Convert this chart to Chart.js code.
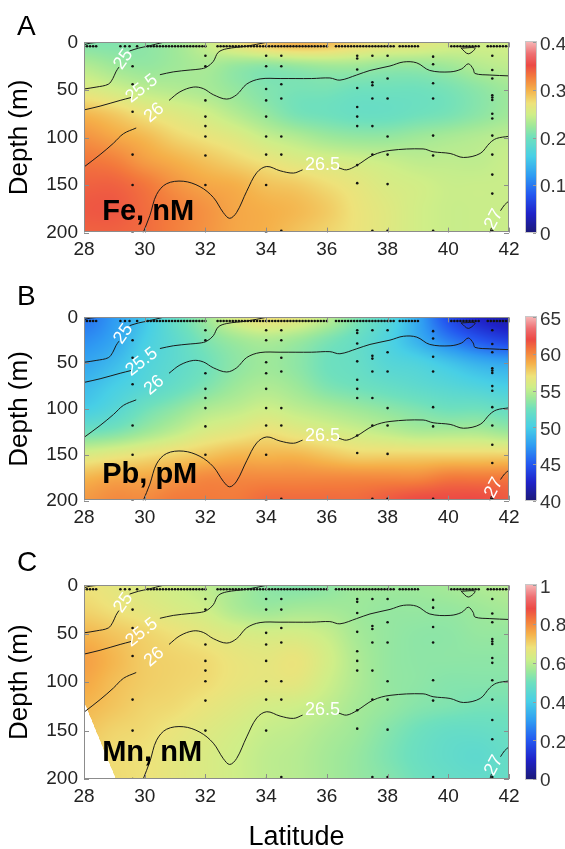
<!DOCTYPE html>
<html>
<head>
<meta charset="utf-8">
<script src="https://cdn.jsdelivr.net/npm/chart.js@4.4.1/dist/chart.umd.min.js"></script>
<style>
  html, body { margin: 0; padding: 0; background: #fff; }
  #fig { position: relative; width: 565px; height: 849px; }
  #fig canvas { position: absolute; left: 0; }
</style>
</head>
<body>
<div id="fig">
  <canvas id="panelA" width="565" height="275" style="top:0;width:565px;height:275px"></canvas>
  <canvas id="panelB" width="565" height="268" style="top:275px;width:565px;height:268px"></canvas>
  <canvas id="panelC" width="565" height="306" style="top:543px;width:565px;height:306px"></canvas>
</div>
<script>
// grid of the interpolated sections
const gridLats = [28, 29, 30, 31, 32, 33, 34, 35, 36, 37, 38, 39, 40, 41, 42];
const gridDepths = [0, 25, 50, 75, 100, 125, 150, 175, 200];

const feValues = [
  [0.21, 0.21, 0.215, 0.225, 0.245, 0.27, 0.29, 0.3, 0.295, 0.28, 0.27, 0.265, 0.255, 0.25, 0.25],
  [0.235, 0.225, 0.22, 0.225, 0.23, 0.22, 0.215, 0.22, 0.225, 0.225, 0.22, 0.22, 0.225, 0.235, 0.24],
  [0.26, 0.25, 0.24, 0.235, 0.23, 0.22, 0.21, 0.205, 0.205, 0.2, 0.2, 0.2, 0.205, 0.215, 0.225],
  [0.295, 0.285, 0.27, 0.26, 0.25, 0.235, 0.22, 0.205, 0.2, 0.195, 0.195, 0.2, 0.205, 0.215, 0.225],
  [0.315, 0.305, 0.295, 0.28, 0.27, 0.26, 0.245, 0.235, 0.225, 0.22, 0.22, 0.225, 0.23, 0.235, 0.24],
  [0.33, 0.325, 0.31, 0.3, 0.29, 0.28, 0.27, 0.26, 0.255, 0.25, 0.245, 0.24, 0.24, 0.24, 0.245],
  [0.34, 0.34, 0.33, 0.315, 0.305, 0.3, 0.29, 0.285, 0.275, 0.265, 0.255, 0.25, 0.245, 0.245, 0.245],
  [0.345, 0.345, 0.335, 0.325, 0.315, 0.305, 0.3, 0.295, 0.285, 0.27, 0.26, 0.25, 0.245, 0.245, 0.245],
  [0.34, 0.34, 0.335, 0.325, 0.315, 0.305, 0.3, 0.29, 0.28, 0.27, 0.26, 0.25, 0.245, 0.245, 0.245]
];

const pbValues = [
  [46, 47.5, 49.5, 52, 54, 56, 57, 56.5, 55, 53, 51, 48, 44.5, 42.5, 41.5],
  [47, 48, 50, 51.5, 53, 54, 54.5, 54, 53, 52, 50.5, 48.5, 46.5, 45, 44],
  [48, 49, 50.5, 51.5, 52.5, 53.5, 54, 53.5, 52.5, 52, 51, 50.5, 49.5, 48.5, 48],
  [49, 50, 51, 52, 53, 54, 54.5, 54, 53, 52.5, 52, 51.5, 51, 50.5, 50],
  [50, 51, 52.5, 53.5, 54.5, 55, 55.5, 55, 54.5, 54, 53.5, 53, 52.5, 52.5, 52],
  [52.5, 53, 54, 55, 56, 56.5, 57, 56.5, 56, 55.5, 55, 54.5, 54.5, 54.5, 54],
  [56, 56.5, 57, 57.5, 58, 58.5, 58.5, 58.5, 58, 57.5, 57.5, 57.5, 57.5, 57.5, 57.5],
  [58.5, 59, 59, 59.5, 60, 60, 60, 60, 60, 60, 60, 60, 60.5, 60.5, 60.5],
  [59.5, 60, 60, 60.5, 60.5, 60.5, 61, 61, 61, 61, 61.5, 62, 62, 62, 61.5]
];

const mnValues = [
  [0.68, 0.66, 0.64, 0.62, 0.6, 0.57, 0.54, 0.53, 0.54, 0.56, 0.56, 0.56, 0.57, 0.58, 0.59],
  [0.7, 0.68, 0.66, 0.64, 0.62, 0.58, 0.56, 0.57, 0.57, 0.56, 0.55, 0.55, 0.55, 0.56, 0.57],
  [0.74, 0.72, 0.7, 0.68, 0.66, 0.64, 0.63, 0.63, 0.61, 0.57, 0.55, 0.54, 0.54, 0.55, 0.55],
  [0.77, 0.74, 0.71, 0.7, 0.69, 0.67, 0.66, 0.67, 0.63, 0.58, 0.55, 0.54, 0.54, 0.54, 0.54],
  [0.76, 0.73, 0.71, 0.7, 0.69, 0.67, 0.66, 0.66, 0.62, 0.58, 0.55, 0.54, 0.53, 0.53, 0.53],
  [0.74, 0.72, 0.7, 0.69, 0.67, 0.65, 0.63, 0.62, 0.6, 0.57, 0.55, 0.53, 0.52, 0.51, 0.51],
  [0.72, 0.7, 0.69, 0.67, 0.65, 0.63, 0.61, 0.6, 0.58, 0.56, 0.53, 0.5, 0.48, 0.48, 0.49],
  [0.7, 0.69, 0.68, 0.66, 0.64, 0.62, 0.6, 0.59, 0.57, 0.55, 0.52, 0.49, 0.47, 0.46, 0.48],
  [0.7, 0.69, 0.68, 0.66, 0.64, 0.62, 0.6, 0.59, 0.57, 0.55, 0.53, 0.5, 0.48, 0.47, 0.48]
];

// Mn has no data in the deep corner at the southern end
const mnBlankDepths = [120, 200];
const mnBlankLats = [28.0, 29.05];

// isopycnals (lat, depth); null = gap under a label
const contour245 = [[28.0, 2.5], [28.2, 0.8], [28.45, 0]];
const contour25 = [[28, 49], [28.4, 47], [28.8, 44], [28.95, 38], [29.05, 31], [29.15, 26], null,
  [29.5, 9], [29.8, 6], [30.1, 4], [30.35, 2], [30.6, 0]];
const contour255 = [[28, 71], [28.53, 67], [29.19, 61], [29.55, 58], null,
  [30.5, 34], [30.94, 31], [31.5, 29], [31.82, 28], [32.04, 26], [32.26, 20], [32.42, 10.5],
  [32.7, 6.7], [33.36, 4], [34.0, 0]];
const contour26 = [[28, 131], [28.53, 118], [28.97, 106], [29.3, 96], [29.72, 90], null,
  [30.8, 61], [31.16, 52], [31.6, 47], [31.93, 48.6], [32.26, 55], [32.7, 59.6], [33.03, 55],
  [33.36, 43.8], [33.8, 38.4], [34.46, 38], [35.5, 38], [36.1, 37.4], [36.43, 39.7], [36.98, 34.3],
  [37.42, 29.5], [38.08, 24.8], [38.52, 20.6], [38.96, 21.5], [39.39, 29.5], [40.06, 31],
  [40.44, 27.9], [40.66, 22.5], [40.82, 27.9], [40.88, 32.7], [41.37, 34.3], [42, 35.2]];
const contour265 = [[29.95, 200], [30.17, 182], [30.39, 160], [30.72, 148.6], [31.27, 146],
  [31.82, 151.7], [32.26, 163], [32.59, 179], [32.8, 185], [33.03, 178.7], [33.36, 156.5],
  [33.69, 137], [34.02, 130.5], [34.46, 135], [34.9, 137.4], [35.2, 134], null,
  [36.4, 132], [36.65, 134], [36.98, 129.5], [37.53, 118.4], [38.08, 113.6], [39.17, 112],
  [39.5, 115], [40.06, 116.8], [40.5, 121], [41.05, 116.8], [41.37, 105.7], [41.59, 101], [42, 98.7]];
const contour27 = [[41.37, 200], [41.42, 195], null, [41.72, 177], [41.85, 171], [42, 166.7]];
const contourLoop = [[40.42, 6], [40.66, 12], [40.88, 6], [40.42, 6]];

const contourLabels = ['25', '25.5', '26', '26.5', '27'];
const labelLats = [29.3, 29.9, 30.31, 35.86, 41.5];
const labelDepths = [18, 48.6, 74, 129, 186];
const labelAngles = [-55, -38, -40, 0, -62];

// sample positions
const surfaceDepth = 4;
const surfaceLats = [28.0, 28.1, 28.2, 28.3, 28.4, 29.2, 29.35, 29.5, 29.75,
  30.1, 30.2, 30.3, 30.4, 30.5, 30.6, 30.7, 30.8, 30.9, 31.0, 31.1, 31.2, 31.3, 31.4, 31.5,
  31.6, 31.7, 31.8, 31.9, 32.0, 32.4, 32.5, 32.6, 32.7, 32.8, 32.9, 33.0, 33.1, 33.2, 33.3,
  33.4, 33.5, 33.6, 33.7, 33.8, 33.9, 34.0, 34.1, 34.2, 34.3, 34.4, 34.5, 34.6, 34.7, 34.8,
  34.9, 35.0, 35.1, 35.2, 35.3, 35.4, 35.5, 35.6, 35.7, 35.8, 35.9, 36.0, 36.3, 36.4, 36.5,
  36.6, 36.7, 36.8, 36.9, 37.0, 37.1, 37.2, 37.3, 37.4, 37.5, 37.6, 37.7, 37.8, 37.9, 38.0,
  38.1, 38.2, 38.4, 38.5, 38.6, 38.7, 38.8, 38.9, 39.0, 40.1, 40.2, 40.3, 40.4, 40.5, 40.6,
  40.7, 40.8, 40.9, 41.0, 41.3, 41.4, 41.5, 41.6, 41.7, 41.8, 41.9, 42.0];
const stationLats = [29.6, 32.0, 34.0, 34.5, 37.0, 37.5, 38.0, 39.5, 41.45];
const stationDepths = [
  [25, 44, 73, 118, 150, 200],
  [14, 25, 61, 78, 88, 99, 119, 150],
  [14, 25, 49, 61, 78, 99, 118, 150, 200],
  [14, 25, 44, 59, 99, 118, 198],
  [14, 17, 28.5, 48, 68, 78, 88, 129, 148],
  [14, 42, 45, 59, 88, 118, 198],
  [14, 38, 59, 99, 118, 149, 198],
  [15, 23, 43, 59, 98, 119, 198],
  [14, 29, 38, 55.5, 58, 60.6, 75, 80, 98, 118, 139, 159, 198]
];

// colour map (jet-like, light at the top end)
const cmapStops = [0, 0.1, 0.2, 0.3, 0.4, 0.5, 0.56, 0.62, 0.68, 0.75, 0.82, 0.88, 0.94, 1];
const cmapColors = ['#1c1a78', '#1f22c8', '#2458f0', '#2f9cf2', '#48cfe6', '#6fe0bd', '#9ee89a',
  '#cfee88', '#eee27a', '#f5b049', '#f37a3c', '#ec4a45', '#ee6f72', '#f6b3b3'];

Chart.defaults.font.family = '"Liberation Sans", Arial, Helvetica, sans-serif';

const cmapRgb = cmapColors.map(h => [1, 3, 5].map(i => parseInt(h.substr(i, 2), 16)));

function colourAt(t) {
  t = Math.max(0, Math.min(1, t));
  let i = 1;
  while (i < cmapStops.length - 1 && t > cmapStops[i]) i++;
  const f = (t - cmapStops[i - 1]) / (cmapStops[i] - cmapStops[i - 1]);
  const a = cmapRgb[i - 1], b = cmapRgb[i];
  return [a[0] + (b[0] - a[0]) * f, a[1] + (b[1] - a[1]) * f, a[2] + (b[2] - a[2]) * f];
}

const clamp = (v, lo, hi) => Math.max(lo, Math.min(hi, v));

function cubic(p0, p1, p2, p3, t) {
  return 0.5 * (2 * p1 + (-p0 + p2) * t + (2 * p0 - 5 * p1 + 4 * p2 - p3) * t * t +
    (-p0 + 3 * p1 - 3 * p2 + p3) * t * t * t);
}

function sampleGrid(values, lat, depth) {
  const nx = gridLats.length, ny = gridDepths.length;
  const fx = (lat - gridLats[0]) / (gridLats[1] - gridLats[0]);
  const fy = (depth - gridDepths[0]) / (gridDepths[1] - gridDepths[0]);
  const ix = clamp(Math.floor(fx), 0, nx - 2), iy = clamp(Math.floor(fy), 0, ny - 2);
  const tx = fx - ix, ty = fy - iy;
  const row = j => {
    const r = values[clamp(j, 0, ny - 1)];
    const g = i => r[clamp(i, 0, nx - 1)];
    return cubic(g(ix - 1), g(ix), g(ix + 1), g(ix + 2), tx);
  };
  return cubic(row(iy - 1), row(iy), row(iy + 1), row(iy + 2), ty);
}

function isBlank(panel, lat, depth) {
  if (!panel.blank) return false;
  if (depth < mnBlankDepths[0]) return false;
  const f = (depth - mnBlankDepths[0]) / (mnBlankDepths[1] - mnBlankDepths[0]);
  return lat < mnBlankLats[0] + f * (mnBlankLats[1] - mnBlankLats[0]);
}

function toPoints(list) {
  const pts = [];
  list.forEach((p, i) => {
    if (p === null) pts.push({ x: list[i - 1][0], y: null });
    else pts.push({ x: p[0], y: p[1] });
  });
  return pts;
}

function samplePoints() {
  const pts = surfaceLats.map(lat => ({ x: lat, y: surfaceDepth }));
  stationLats.forEach((lat, i) => {
    stationDepths[i].forEach(d => pts.push({ x: lat, y: d }));
  });
  return pts;
}

const panels = [
  { id: 'panelA', letter: 'A', letterY: 35, name: 'Fe, nM', nameDepth: 187, values: feValues,
    min: 0, max: 0.4, step: 0.1, padTop: 35, xHeight: 30, xTitle: false },
  { id: 'panelB', letter: 'B', letterY: 30, name: 'Pb, pM', nameDepth: 181, values: pbValues,
    min: 40, max: 65, step: 5, padTop: 28, xHeight: 30, xTitle: false },
  { id: 'panelC', letter: 'C', letterY: 28, name: 'Mn, nM', nameDepth: 181, values: mnValues,
    min: 0, max: 1, step: 0.2, padTop: 26, xHeight: 70, xTitle: true, blank: true }
];

function makePanel(panel) {
  const heatmap = {
    id: 'heatmap',
    beforeDatasetsDraw(chart) {
      const { ctx, chartArea: a, scales: { x, y, cb } } = chart;
      const w = Math.round(a.right - a.left), h = Math.round(a.bottom - a.top);
      const off = document.createElement('canvas');
      off.width = w; off.height = h;
      const octx = off.getContext('2d');
      const img = octx.createImageData(w, h);
      for (let py = 0; py < h; py++) {
        const depth = y.getValueForPixel(a.top + py + 0.5);
        for (let px = 0; px < w; px++) {
          const lat = x.getValueForPixel(a.left + px + 0.5);
          if (isBlank(panel, lat, depth)) continue;
          const v = sampleGrid(panel.values, lat, depth);
          const c = colourAt((v - panel.min) / (panel.max - panel.min));
          const k = (py * w + px) * 4;
          img.data[k] = c[0]; img.data[k + 1] = c[1]; img.data[k + 2] = c[2]; img.data[k + 3] = 255;
        }
      }
      octx.putImageData(img, 0, 0);
      ctx.drawImage(off, a.left, a.top);

      // colour bar beside the section
      const bx = a.right + 17;
      for (let py = Math.round(cb.top); py < Math.round(cb.bottom); py++) {
        const c = colourAt((cb.getValueForPixel(py + 0.5) - panel.min) / (panel.max - panel.min));
        ctx.fillStyle = 'rgb(' + c.map(Math.round).join(',') + ')';
        ctx.fillRect(bx, py, 10, 1);
      }
      ctx.strokeStyle = '#c8c8c8';
      ctx.lineWidth = 1;
      ctx.strokeRect(bx - 0.5, Math.round(cb.top) - 0.5, 11, Math.round(cb.bottom - cb.top) + 1);
      ctx.strokeStyle = '#9a9a9a';
      cb.ticks.forEach(t => {
        const py = Math.round(cb.getPixelForValue(t.value)) + 0.5;
        ctx.beginPath(); ctx.moveTo(bx + 7, py); ctx.lineTo(bx + 10, py); ctx.stroke();
      });
    },
    afterDatasetsDraw(chart) {
      const { ctx, chartArea: a, scales: { x, y } } = chart;
      ctx.save();
      ctx.font = '18px "Liberation Sans", Arial, sans-serif';
      ctx.fillStyle = '#fff';
      ctx.textAlign = 'center';
      ctx.textBaseline = 'middle';
      contourLabels.forEach((txt, i) => {
        ctx.save();
        ctx.translate(x.getPixelForValue(labelLats[i]), y.getPixelForValue(labelDepths[i]));
        ctx.rotate(labelAngles[i] * Math.PI / 180);
        ctx.fillText(txt, 0, 0);
        ctx.restore();
      });

      ctx.font = 'bold 29px "Liberation Sans", Arial, sans-serif';
      ctx.fillStyle = '#000';
      ctx.textAlign = 'left';
      ctx.textBaseline = 'alphabetic';
      ctx.fillText(panel.name, x.getPixelForValue(28.6), y.getPixelForValue(panel.nameDepth));

      // frame with inward ticks
      ctx.strokeStyle = '#8c8c8c';
      ctx.lineWidth = 1;
      ctx.strokeRect(Math.round(a.left) + 0.5, Math.round(a.top) + 0.5,
        Math.round(a.right - a.left) - 1, Math.round(a.bottom - a.top) - 1);
      ctx.beginPath();
      x.ticks.forEach(t => {
        const px = Math.round(x.getPixelForValue(t.value)) + 0.5;
        ctx.moveTo(px, a.bottom); ctx.lineTo(px, a.bottom - 5);
        ctx.moveTo(px, a.top); ctx.lineTo(px, a.top + 5);
      });
      y.ticks.forEach(t => {
        const py = Math.round(y.getPixelForValue(t.value)) + 0.5;
        ctx.moveTo(a.left, py); ctx.lineTo(a.left + 5, py);
        ctx.moveTo(a.right, py); ctx.lineTo(a.right - 5, py);
      });
      ctx.stroke();

      ctx.font = '28px "Liberation Sans", Arial, sans-serif';
      ctx.fillStyle = '#000';
      ctx.fillText(panel.letter, 17, panel.letterY);
      ctx.restore();
    }
  };

  const lineStyle = { type: 'line', borderColor: '#1a1a1a', borderWidth: 1, pointRadius: 0,
    tension: 0.35, fill: false, spanGaps: false };
  const contours = [contour245, contour25, contour255, contour26, contour265, contour27, contourLoop];

  const tickFont = { size: 19 };
  return new Chart(document.getElementById(panel.id), {
    type: 'line',
    data: {
      datasets: contours.map((c, i) => Object.assign({ label: 'sigma' + i, data: toPoints(c) }, lineStyle))
        .concat([{
          type: 'scatter', label: 'samples', data: samplePoints(),
          pointRadius: 1.3, pointBackgroundColor: '#111', pointBorderWidth: 0
        }])
    },
    options: {
      responsive: false,
      animation: false,
      events: [],
      layout: { padding: { top: panel.padTop, left: 0, right: 0, bottom: 0 } },
      plugins: { legend: { display: false }, tooltip: { enabled: false } },
      scales: {
        x: {
          type: 'linear', min: 28, max: 42,
          ticks: { stepSize: 2, padding: 6, font: tickFont, color: '#222' },
          grid: { display: false, drawTicks: false },
          border: { display: false },
          title: {
            display: panel.xTitle, text: 'Latitude', color: '#000',
            font: { size: 27, lineHeight: 1 }, padding: { top: 0, bottom: -2 }
          },
          afterFit(s) { s.height = panel.xHeight; }
        },
        y: {
          type: 'linear', reverse: true, min: 0, max: 200,
          ticks: { stepSize: 50, padding: 6, font: tickFont, color: '#222' },
          grid: { display: false, drawTicks: false },
          border: { display: false },
          title: { display: true, text: 'Depth (m)', color: '#000', font: { size: 26 }, padding: { top: 4, bottom: 0 } },
          afterFit(s) { s.width = 84; }
        },
        cb: {
          type: 'linear', position: 'right', min: panel.min, max: panel.max,
          ticks: {
            stepSize: panel.step, padding: 31, font: tickFont, color: '#333', labelOffset: 2,
            callback: v => String(Math.round(v * 100) / 100)
          },
          grid: { display: false, drawTicks: false },
          border: { display: false },
          afterFit(s) { s.width = 56; }
        }
      }
    },
    plugins: [heatmap]
  });
}

panels.forEach(makePanel);
</script>
</body>
</html>
